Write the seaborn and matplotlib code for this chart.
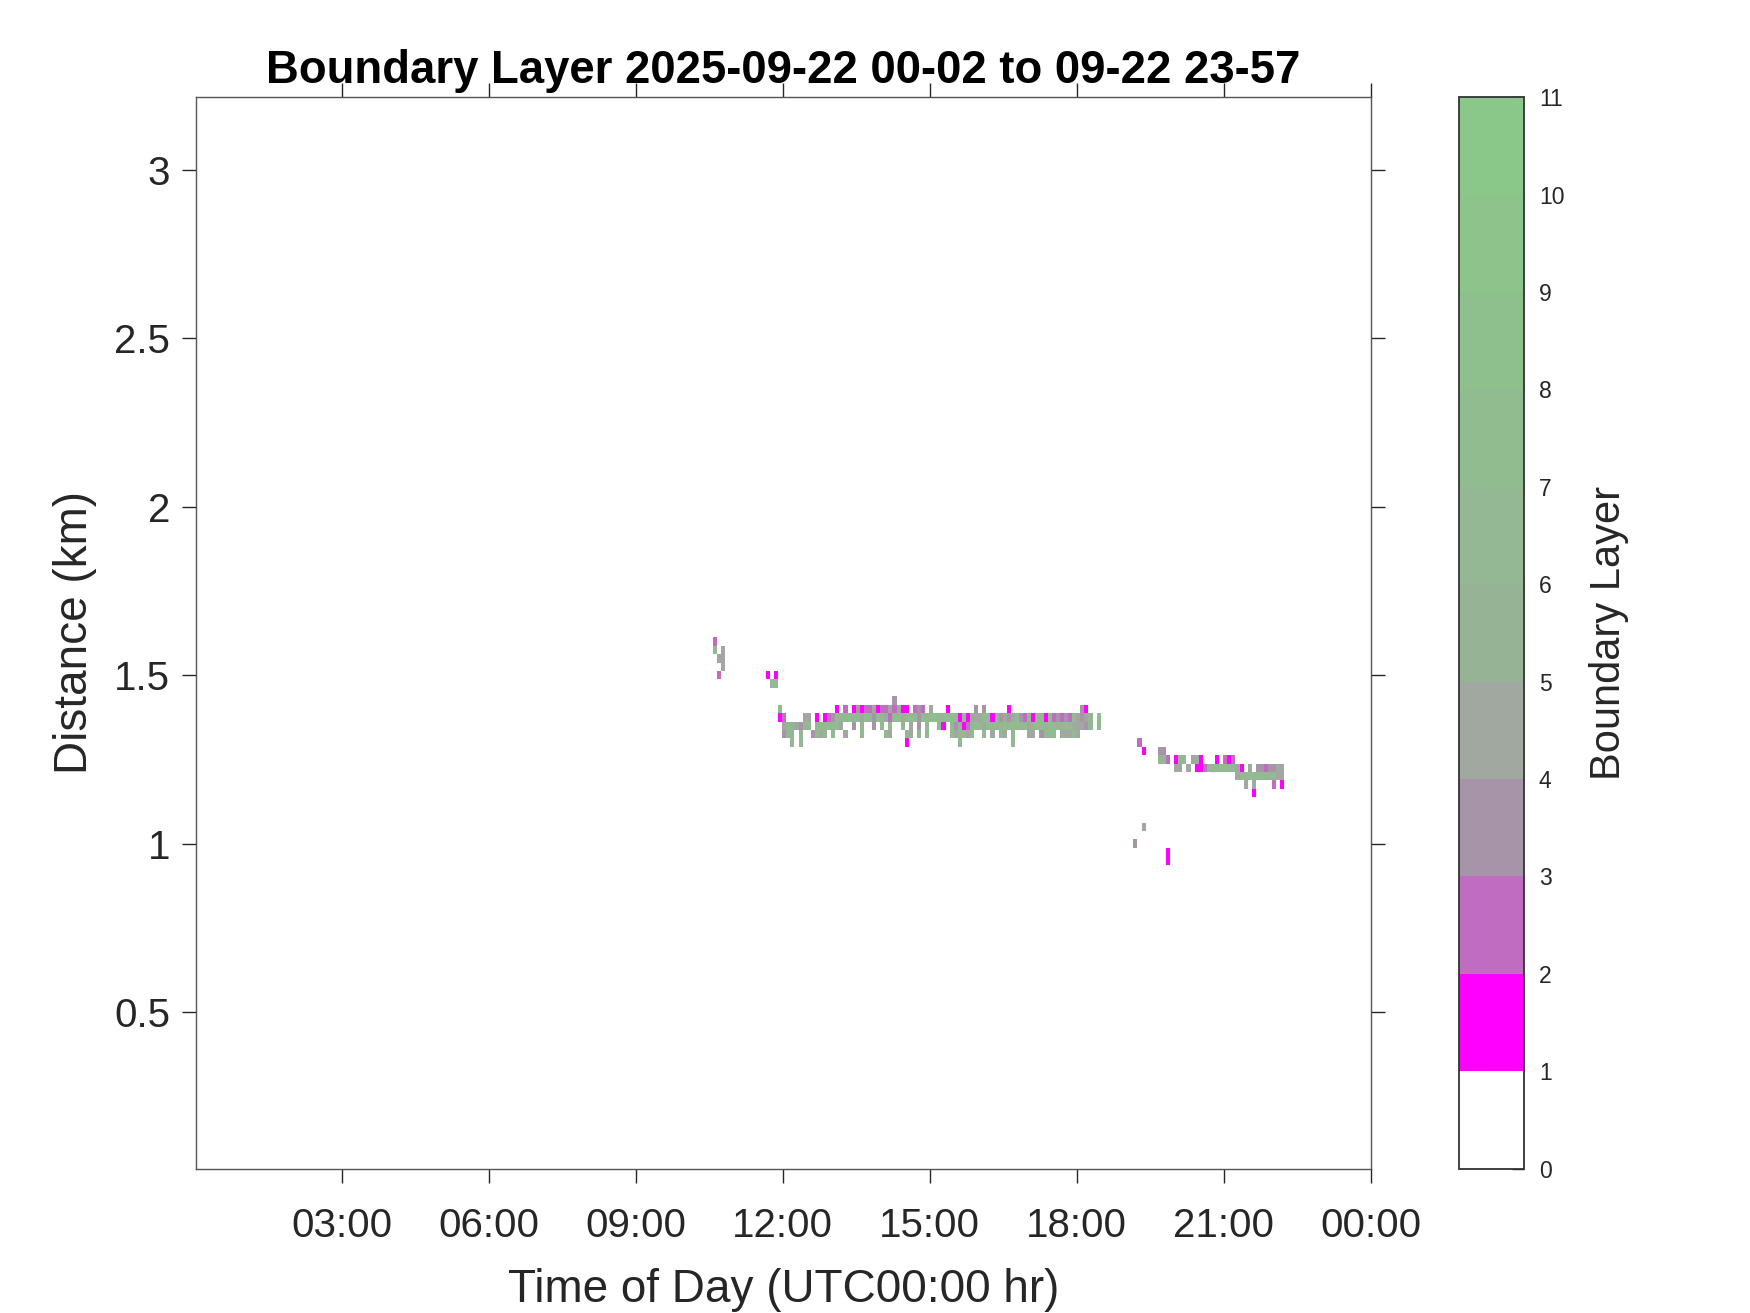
import numpy as np
import seaborn as sns
import matplotlib
matplotlib.use("Agg")
import matplotlib.pyplot as plt
from matplotlib.colors import ListedColormap, BoundaryNorm

# ---------------- data ----------------
title_text = "Boundary Layer 2025-09-22 00-02 to 09-22 23-57"
x_label = "Time of Day (UTC00:00 hr)"
y_label = "Distance (km)"
cbar_label = "Boundary Layer"

time_start_min = 2          # first profile 00:02
time_step_min = 5           # profile spacing
n_times = 288
gate_km = 0.025             # range gate spacing
n_gates = 130

x_ticks_hr = [3, 6, 9, 12, 15, 18, 21, 24]
x_tick_labels = ["03:00", "06:00", "09:00", "12:00", "15:00", "18:00", "21:00", "00:00"]
y_ticks_km = [0.5, 1.0, 1.5, 2.0, 2.5, 3.0]
y_tick_labels = ["0.5", "1", "1.5", "2", "2.5", "3"]

class_bounds = list(range(12))
class_colors = ["#ffffff", "#ff00ff", "#c06cc0", "#a894a8", "#a0a8a0",
                "#96b396", "#93b893", "#90bc90", "#8ec08e", "#8cc48c", "#8ac88a"]

# clusters of boundary-layer detections: first time index, top gate index,
# rows from top gate downward; '.' = none, digit = class (value = class + 0.5)
early_col0, early_top = 127, 64
early_rows = ["2..", "6.4", ".44", "..4", ".2."]

step_col0, step_top = 140, 60
step_rows = ["1.1", ".66"]

main_col0, main_top = 143, 57
main_rows = [
    "." * 28 + "3" + "." * 51,
    "7" + "." * 13 + "1.2.13122412242411.232.4...1......3.3.....1" + "." * 17 + "31....",
    "12....44.1.123" + "766766" + "476376427746763" + "767766776" + "16144476163434" + "7326176172323274346.7.",
    ".4664366." + "67676" + "64..3.6..3.6.7..6.4.3.6..6" + "1.636126764" + "676676" + "7667467767766764" + "4436.6.",
    ".366.6..3646.6" + "..4...6....." + "64...64.6.6....." + "646646.." + "6.4.64.6" + "...44.3667.44464" + "......",
    "...6.6" + "." * 25 + "1" + "." * 12 + "6" + "." * 12 + "6" + "." * 22,
]

late_col0, late_top = 230, 52
late_rows = [
    ".2" + "." * 35,
    "..1...33" + "." * 29,
    "......" + "662.166.441...1.212" + "." * 12,
    "." * 10 + "44.4.112" + "6676766" + "41.4." + "33233" + "44",
    "." * 25 + "4" + "66766766" + "6" + "44",
    "." * 27 + "4.4....2.1",
    "." * 29 + "1" + "." * 7,
]

isolated_cols = [230, 232, 238, 238]
isolated_gates = [40, 42, 39, 38]
isolated_codes = ["3", "4", "1", "1"]

# ---------------- grid ----------------
grid = np.full((n_gates, n_times), np.nan)


def put(col0, top, rows):
    for i, row in enumerate(rows):
        g = top - i
        for j, c in enumerate(row):
            k = col0 + j
            if c != "." and 0 <= k < n_times:
                grid[g, k] = int(c, 16) + 0.5


put(early_col0, early_top, early_rows)
put(step_col0, step_top, step_rows)
put(main_col0, main_top, main_rows)
put(late_col0, late_top, late_rows)
for k, g, c in zip(isolated_cols, isolated_gates, isolated_codes):
    grid[g, k] = int(c, 16) + 0.5

t_edges = (time_start_min + time_step_min * (np.arange(n_times + 1) - 0.5)) / 60.0
g_edges = gate_km * (np.arange(n_gates + 1) - 0.5)

# ---------------- plot ----------------
sns.set_theme(style="white")
plt.rcParams["font.family"] = ["Liberation Sans", "DejaVu Sans"]
text_col = "#262626"

fig = plt.figure(figsize=(17.5, 13.13), dpi=100)
ax = fig.add_axes([0.1122, 0.110, 0.6710, 0.816])
cax = fig.add_axes([0.8336, 0.110, 0.0370, 0.816])

cmap = ListedColormap(class_colors)
norm = BoundaryNorm(class_bounds, cmap.N)
mesh = ax.pcolormesh(t_edges, g_edges, np.ma.masked_invalid(grid), cmap=cmap,
                     norm=norm, shading="flat", edgecolors="none", antialiased=False)

ax.set_xlim(time_start_min / 60.0, 24)
ax.set_ylim(0.036, 3.215)
ax.set_xticks(x_ticks_hr)
ax.set_xticklabels(x_tick_labels)
ax.set_yticks(y_ticks_km)
ax.set_yticklabels(y_tick_labels)
ax.tick_params(axis="both", which="major", direction="out", length=10, width=1.0,
               color=text_col, labelcolor=text_col, labelsize=29,
               bottom=True, top=True, left=True, right=True)
ax.tick_params(axis="x", pad=18)
ax.tick_params(axis="y", pad=9)
for s in ax.spines.values():
    s.set_color("#555555")
    s.set_linewidth(1.0)
ax.set_xlabel(x_label, fontsize=33, color=text_col, labelpad=16)
ax.set_ylabel(y_label, fontsize=33, color=text_col, labelpad=12)
ax.set_title(title_text, fontsize=32.8, fontweight="bold", color="black", pad=10)

cb = fig.colorbar(mesh, cax=cax, ticks=class_bounds)
cb.outline.set_edgecolor("#333333")
cb.outline.set_linewidth(1.3)
cax.tick_params(direction="in", length=9, width=1.0, color=text_col,
                labelcolor=text_col, labelsize=16.5, pad=11, right=True, left=False)
cb.set_label(cbar_label, fontsize=30, color=text_col, labelpad=18)

fig.savefig("out.png", dpi=100)
